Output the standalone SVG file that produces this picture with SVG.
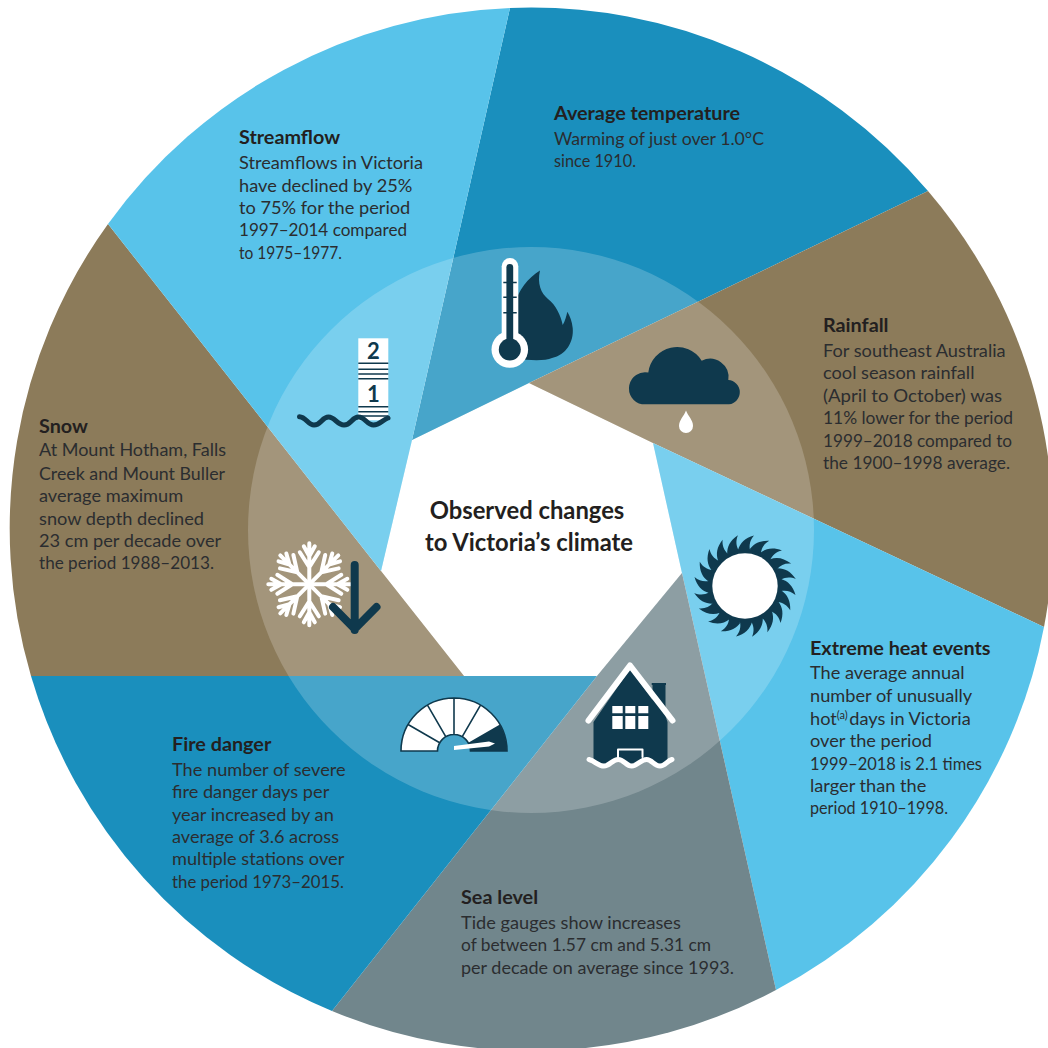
<svg xmlns="http://www.w3.org/2000/svg" xmlns:xlink="http://www.w3.org/1999/xlink" width="1048" height="1048" viewBox="0 0 1048 1048">
<style>
text{font-family:"Lato","Liberation Sans",sans-serif;fill:#2b2d30;font-size:18.2px}
.h{font-weight:700;font-size:19.8px;fill:#231f20}
.c{font-weight:700;font-size:23.8px;fill:#231f20;text-anchor:middle}
.d{fill:#0f394d}
.w{fill:#fff}
.ws{fill:none;stroke:#fff;stroke-linecap:round;stroke-linejoin:round}
.ds{fill:none;stroke:#0f394d;stroke-linecap:round;stroke-linejoin:round}
.g{fill:none;stroke:#0f394d;stroke-width:1.6}
.blue{fill:#1a8fbd}.sky{fill:#58c3ea}.brown{fill:#8c7b5a}.slate{fill:#71868c}
.num{font-weight:700;font-size:22px;fill:#0f394d;text-anchor:middle}
</style>
<defs>
<path id="tooth" class="d" d="M-7,-36 C-5,-43 0,-48 9,-50.5 C5,-46 4,-41 5,-36 Z"/>
<g id="arm" class="ws" stroke-width="4">
<path d="M0,0 V-41 M0,-17 L-9.5,-32 M0,-17 L9.5,-32 M0,-28 L-5.5,-38 M0,-28 L5.5,-38"/>
</g>
<clipPath id="ic"><circle cx="531" cy="530" r="283"/></clipPath>
</defs>
<rect width="1048" height="1048" fill="#fff"/>
<g id="wedges">
<path class="blue" d="M412,440 L510,8 A521,521 0 0 1 928,191 L529,383 Z"/>
<path class="brown" d="M529,383 L928,191 A521,521 0 0 1 1044,627 L653,443 Z"/>
<path class="sky" d="M653,443 L1044,627 A521,521 0 0 1 776,990 L682,573 Z"/>
<path class="slate" d="M682,573 L776,990 A521,521 0 0 1 332,1011 L597,676 Z"/>
<path class="blue" d="M597,676 L332,1011 A521,521 0 0 1 31,676 L464,676 Z"/>
<path class="brown" d="M464,676 L31,676 A521,521 0 0 1 108,224 L381,571 Z"/>
<path class="sky" d="M381,571 L108,224 A521,521 0 0 1 510,8 L412,440 Z"/>
</g>
<g id="ring" clip-path="url(#ic)">
<path fill="#fff" fill-opacity=".2" d="M412,440 L529,383 L653,443 L682,573 L597,676 L464,676 L381,571 Z M0,0 H1048 V1048 H0 Z" fill-rule="evenodd"/>
</g>
<g id="centre-label">
<text class="c" x="527" y="519">Observed changes</text>
<text class="c" x="529" y="551">to Victoria’s climate</text>
</g>
<g id="temperature">
<path class="d" d="M540,270.5 C528,278 518,290 515,305 L515,358 C530,361 545,361 552,358 C566,355 574,342 572.7,328 C572,321 570,316 567.3,311.7 C566.5,316 565,321 562.7,325 C561,316 556,305 548,299 C541,293 537,284 540,270.5 Z"/>
<rect class="w" x="501.7" y="258" width="16.6" height="85" rx="8.3"/>
<circle class="w" cx="509.8" cy="349.5" r="18.3"/>
<circle class="d" cx="509.8" cy="349.5" r="11"/>
<rect class="d" x="506.4" y="264" width="6.8" height="80" rx="3.4"/>
<path class="g" d="M503.3,282.5 H516.7 M503.3,297.3 H516.7 M503.3,312.7 H516.7"/>
<text x="554" y="120" class="h">Average temperature</text>
<text x="554" y="145" textLength="210" lengthAdjust="spacingAndGlyphs">Warming of just over 1.0°C</text>
<text x="554" y="167" textLength="82" lengthAdjust="spacingAndGlyphs">since 1910.</text>
</g>
<g id="rainfall">
<path class="d" d="M642,404.3 A16.2,16.2 0 0 1 648.3,372.5 A29,29 0 0 1 701.7,360.7 A18.5,18.5 0 0 1 728.3,380 A12.2,12.2 0 0 1 729,404.3 Z"/>
<path class="w" d="M686,410.5 C688,416 693,420 693,426 A7,7 0 0 1 679,426 C679,420 684,416 686,410.5 Z"/>
<text x="823" y="332" class="h">Rainfall</text>
<text x="823" y="357">For southeast Australia</text>
<text x="823" y="379">cool season rainfall</text>
<text x="823" y="402" textLength="179" lengthAdjust="spacingAndGlyphs">(April to October) was</text>
<text x="823" y="424" textLength="190" lengthAdjust="spacingAndGlyphs">11% lower for the period</text>
<text x="823" y="447" textLength="189" lengthAdjust="spacingAndGlyphs">1999–2018 compared to</text>
<text x="823" y="469" textLength="187" lengthAdjust="spacingAndGlyphs">the 1900–1998 average.</text>
</g>
<g id="heat">
<g transform="translate(745,586)">
<circle class="d" r="37"/>
<use xlink:href="#tooth" href="#tooth" transform="rotate(0)"/>
<use xlink:href="#tooth" href="#tooth" transform="rotate(18)"/>
<use xlink:href="#tooth" href="#tooth" transform="rotate(36)"/>
<use xlink:href="#tooth" href="#tooth" transform="rotate(54)"/>
<use xlink:href="#tooth" href="#tooth" transform="rotate(72)"/>
<use xlink:href="#tooth" href="#tooth" transform="rotate(90)"/>
<use xlink:href="#tooth" href="#tooth" transform="rotate(108)"/>
<use xlink:href="#tooth" href="#tooth" transform="rotate(126)"/>
<use xlink:href="#tooth" href="#tooth" transform="rotate(144)"/>
<use xlink:href="#tooth" href="#tooth" transform="rotate(162)"/>
<use xlink:href="#tooth" href="#tooth" transform="rotate(180)"/>
<use xlink:href="#tooth" href="#tooth" transform="rotate(198)"/>
<use xlink:href="#tooth" href="#tooth" transform="rotate(216)"/>
<use xlink:href="#tooth" href="#tooth" transform="rotate(234)"/>
<use xlink:href="#tooth" href="#tooth" transform="rotate(252)"/>
<use xlink:href="#tooth" href="#tooth" transform="rotate(270)"/>
<use xlink:href="#tooth" href="#tooth" transform="rotate(288)"/>
<use xlink:href="#tooth" href="#tooth" transform="rotate(306)"/>
<use xlink:href="#tooth" href="#tooth" transform="rotate(324)"/>
<use xlink:href="#tooth" href="#tooth" transform="rotate(342)"/>
<circle class="w" r="32.7"/>
</g>
<text x="810" y="655" class="h">Extreme heat events</text>
<text x="810" y="679">The average annual</text>
<text x="810" y="702">number of unusually</text>
<text x="810" y="725">hot<tspan font-size="11" dy="-6">(a)</tspan><tspan dy="6" dx="1.5">days in Victoria</tspan></text>
<text x="810" y="747">over the period</text>
<text x="810" y="770" textLength="172" lengthAdjust="spacingAndGlyphs">1999–2018 is 2.1 times</text>
<text x="810" y="792">larger than the</text>
<text x="810" y="814" textLength="138" lengthAdjust="spacingAndGlyphs">period 1910–1998.</text>
</g>
<g id="sea-level">
<path class="d" d="M630,669 L593.5,722 V759 C598,763 603,766 607,765 C612,764 614,760 618.3,759.5 C623,760 626,766 631.7,766 C637,766 641,760 646.7,759.5 C651,760 655,766 660,766 C663,766 665,762 667.5,760 V722 L665.5,716 V685 H666 V683 H651.7 V685 H652.5 V700 Z"/>
<path class="ws" stroke-width="6" d="M588.5,720.5 L630,665.5 L672.5,720.5"/>
<path class="w" d="M612.3,706 H622.7 V713.3 H612.3 Z M625.3,706 H635.3 V713.3 H625.3 Z M638.3,706 H648.3 V713.3 H638.3 Z M612.3,716 H622.7 V729 H612.3 Z M625.3,716 H635.3 V729 H625.3 Z M638.3,716 H648.3 V729 H638.3 Z"/>
<path class="ws" stroke-width="2" d="M618,759 V749.5 H642.5 V757"/>
<path class="ws" stroke-width="5" d="M589,759.5 C595,761 598,766 604,766 C610,766 612,759.5 618.3,759.5 C624,759.5 626,766 631.7,766 C638,766 640,759.5 646.7,759.5 C652,759.5 654,766 660,766 C665,766 667,761 672,759.5"/>
<text x="461" y="904" class="h">Sea level</text>
<text x="461" y="929">Tide gauges show increases</text>
<text x="461" y="951" textLength="250" lengthAdjust="spacingAndGlyphs">of between 1.57 cm and 5.31 cm</text>
<text x="461" y="974" textLength="273" lengthAdjust="spacingAndGlyphs">per decade on average since 1993.</text>
</g>
<g id="fire-danger">
<path class="w" d="M401,751 A53,53 0 0 1 507,751 H470.5 A16.5,16.5 0 0 0 437.5,751 Z"/>
<path class="d" d="M499.9,724.5 A53,53 0 0 1 507,751 H470.5 A16.5,16.5 0 0 0 468.3,742.75 Z"/>
<path class="g" d="M401,751 A53,53 0 0 1 507,751 H470.5 A16.5,16.5 0 0 0 437.5,751 Z M408.1,724.5 L439.7,742.75 M427.5,705.1 L445.75,736.7 M454,698 V734.5 M480.5,705.1 L462.25,736.7"/>
<path class="w" d="M454,746 L489,741.5 L495,743.5 L489,746.5 L454,750 Z"/>
<text x="172" y="751" class="h">Fire danger</text>
<text x="172" y="776">The number of severe</text>
<text x="172" y="798">fire danger days per</text>
<text x="172" y="821">year increased by an</text>
<text x="172" y="843" textLength="167" lengthAdjust="spacingAndGlyphs">average of 3.6 across</text>
<text x="172" y="865">multiple stations over</text>
<text x="172" y="888" textLength="172" lengthAdjust="spacingAndGlyphs">the period 1973–2015.</text>
</g>
<g id="snow">
<g transform="translate(309.3,584.3)">
<use xlink:href="#arm" href="#arm"/>
<use xlink:href="#arm" href="#arm" transform="rotate(45)"/>
<use xlink:href="#arm" href="#arm" transform="rotate(90)"/>
<use xlink:href="#arm" href="#arm" transform="rotate(135)"/>
<use xlink:href="#arm" href="#arm" transform="rotate(180)"/>
<use xlink:href="#arm" href="#arm" transform="rotate(225)"/>
<use xlink:href="#arm" href="#arm" transform="rotate(270)"/>
<use xlink:href="#arm" href="#arm" transform="rotate(315)"/>
</g>
<path class="ds" stroke-width="8" d="M354.7,565 V630 M333,607 L354.7,629 L376.5,607"/>
<text x="39" y="433" class="h">Snow</text>
<text x="39" y="456" textLength="187" lengthAdjust="spacingAndGlyphs">At Mount Hotham, Falls</text>
<text x="39" y="480" textLength="186" lengthAdjust="spacingAndGlyphs">Creek and Mount Buller</text>
<text x="39" y="502">average maximum</text>
<text x="39" y="525">snow depth declined</text>
<text x="39" y="547">23 cm per decade over</text>
<text x="39" y="569" textLength="175" lengthAdjust="spacingAndGlyphs">the period 1988–2013.</text>
</g>
<g id="streamflow">
<rect class="w" x="358.3" y="338.3" width="30" height="82"/>
<path class="g" stroke-width="2" d="M358.3,363.3 H388.3 M358.3,369.3 H388.3 M358.3,374 H388.3 M358.3,378.7 H388.3 M358.3,406.7 H388.3 M358.3,411.7 H388.3 M358.3,416 H388.3"/>
<text class="num" x="373.3" y="359">2</text>
<text class="num" x="373.3" y="401.5">1</text>
<path class="ds" stroke-width="5" d="M299.5,416.7 C306,417 308,425 314,425 C321,425 322,417 328.5,417 C335,417 337,425 344,425 C351,425 352,417 358.5,417 C365,417 367,425 373.5,425 C380,425 382,420 388,418"/>
<text x="239" y="144" class="h">Streamflow</text>
<text x="239" y="169">Streamflows in Victoria</text>
<text x="239" y="192">have declined by 25%</text>
<text x="239" y="214">to 75% for the period</text>
<text x="239" y="236" textLength="168" lengthAdjust="spacingAndGlyphs">1997–2014 compared</text>
<text x="239" y="259" textLength="103" lengthAdjust="spacingAndGlyphs">to 1975–1977.</text>
</g>
</svg>
